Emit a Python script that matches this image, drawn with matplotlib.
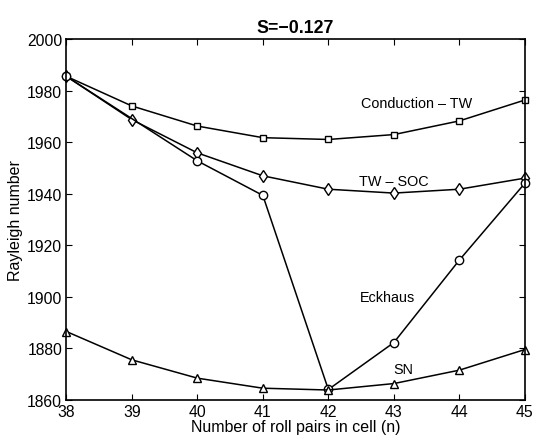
import matplotlib
matplotlib.use("Agg")
import matplotlib.pyplot as plt

plt.rcParams["font.family"] = ["Liberation Sans", "DejaVu Sans"]

n = [38, 39, 40, 41, 42, 43, 44, 45]
cond_tw = [1985.5, 1974, 1966.2, 1961.7, 1961, 1962.9, 1968.2, 1976.3]
tw_soc = [1985.5, 1968.7, 1955.8, 1946.9, 1941.7, 1940.2, 1941.7, 1946]
n_eck = [38, 40, 41, 42, 43, 44, 45]
eckhaus = [1985.5, 1952.7, 1939.3, 1864, 1882.2, 1914.2, 1944]
sn = [1886.5, 1875.5, 1868.4, 1864.5, 1863.8, 1866.3, 1871.5, 1879.5]

fig = plt.figure(figsize=(5.35, 4.39), dpi=100)
ax = fig.add_axes([0.124, 0.087, 0.857, 0.822])

style = dict(color="black", lw=1.1, mfc="white", mec="black", mew=1.0, clip_on=False)
ax.plot(n, cond_tw, marker="s", ms=5, **style)
ax.plot(n, tw_soc, marker="d", ms=6, **style)
ax.plot(n_eck, eckhaus, marker="o", ms=6, **style)
ax.plot(n, sn, marker="^", ms=6, **style)

ax.text(43.35, 1975.2, "Conduction \u2013 TW", ha="center", va="center", fontsize=10.4)
ax.text(43.0, 1945, "TW \u2013 SOC", ha="center", va="center", fontsize=10.4)
ax.text(42.9, 1900, "Eckhaus", ha="center", va="center", fontsize=10.4)
ax.text(43.14, 1872, "SN", ha="center", va="center", fontsize=10.4)

ax.set_xlim(38, 45)
ax.set_ylim(1860, 2000)
ax.set_xticks(range(38, 46))
ax.set_yticks(range(1860, 2001, 20))
ax.tick_params(direction="in", top=True, right=True, labelsize=11.3, length=4, pad=3)
for s in ax.spines.values():
    s.set_linewidth(1.2)
ax.set_xlabel("Number of roll pairs in cell (n)", fontsize=11.5, labelpad=0)
ax.set_ylabel("Rayleigh number", fontsize=11.5, labelpad=3)
ax.set_title("S=\u22120.127", fontsize=12.8, fontweight="bold", pad=5)

fig.savefig("out.png", dpi=100)
